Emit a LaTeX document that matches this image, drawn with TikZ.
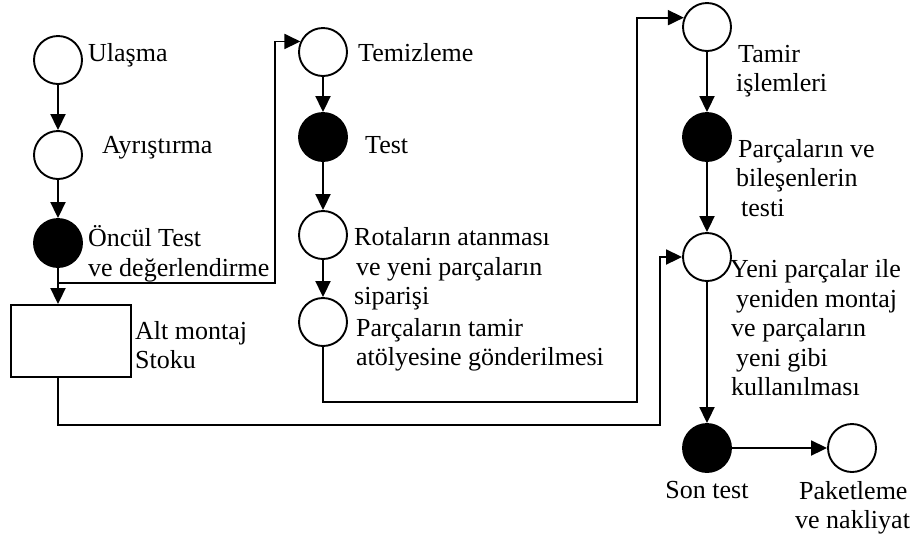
\documentclass[tikz,border=0pt]{standalone}
\usepackage{fontspec}
\setmainfont{Liberation Serif}
\usetikzlibrary{arrows.meta}
\begin{document}
\begin{tikzpicture}[x=1pt,y=-1pt,
  ln/.style={line width=1.9pt},
  arr/.style={ln,-{Triangle[length=16pt,width=15pt]}},
  st/.style={circle,draw,ln,minimum size=48pt,inner sep=0pt,fill=white},
  stf/.style={st,fill=black},
  lab/.style={anchor=west,inner sep=0pt,align=left,font=\fontsize{26}{29.5}\selectfont},
  labc/.style={lab,anchor=center,align=center}]
\useasboundingbox (0,0) rectangle (913,542);
% column 1
\node[st]  (ul) at (58,60) {};
\node[st]  (ay) at (58,155) {};
\node[stf] (on) at (58,243) {};
\node[rectangle,draw,ln,minimum width=120pt,minimum height=72pt,inner sep=0pt] (box) at (71,341) {};
% column 2
\node[st]  (te) at (323,52) {};
\node[stf] (ts) at (323,137) {};
\node[st]  (ro) at (323,235) {};
\node[st]  (pt) at (323,322) {};
% column 3
\node[st]  (tm) at (707,27) {};
\node[stf] (pv) at (707,137) {};
\node[st]  (yp) at (707,257) {};
\node[stf] (so) at (707,448) {};
\node[st]  (pk) at (852,448) {};
% labels
\node[lab] (lul) at (88,55) {Ulaşma};
\node[lab] (lay) at (102,148) {Ayrıştırma};
\node[lab] (lon) at (88,254) {Öncül Test\\ve değerlendirme};
\node[lab] (lbox) at (135,345) {Alt montaj\\Stoku};
\node[lab] (lte) at (358,53) {Temizleme};
\node[lab] (lts) at (365,145) {Test};
\node[lab] (lro) at (354,269) {Rotaların atanması\\\hspace*{2pt}ve yeni parçaların\\siparişi};
\node[lab] (lpt) at (356,345) {Parçaların tamir\\atölyesine gönderilmesi};
\node[lab] (ltm) at (736,71) {\hspace*{2pt}Tamir\\işlemleri};
\node[lab] (lpv) at (736,178) {\hspace*{2pt}Parçaların ve\\bileşenlerin\\\hspace*{5pt}testi};
\node[lab] (lyp) at (730,328) {Yeni parçalar ile\\\hspace*{6pt}yeniden montaj\\\hspace*{1pt}ve parçaların\\\hspace*{6pt}yeni gibi\\\hspace*{1pt}kullanılması};
\node[labc] (lso) at (707,490) {Son test};
\node[lab] (lpk) at (795,508) {\hspace*{4pt}Paketleme\\ve nakliyat};
% connectors column 1
\coordinate (j1) at (58,283);
\coordinate (b1) at (275,283);
\draw[arr] (ul) -- (ay);
\draw[arr] (ay) -- (on);
\draw[ln] (on.south) -- (j1);
\draw[arr] (j1) -- (j1 |- box.north);
\draw[arr] (j1) -- (b1) |- (te.155);
\coordinate (c3) at (660,425);
\draw[arr] (box.south -| j1) |- (c3) |- (yp.west);
% column 2
\draw[arr] (te) -- (ts);
\draw[arr] (ts) -- (ro);
\draw[arr] (ro) -- (pt);
\coordinate (c2) at (637,402);
\draw[arr] (pt.south) |- (c2) |- (tm.158);
% column 3
\draw[arr] (tm) -- (pv);
\draw[arr] (pv) -- (yp);
\draw[arr] (yp) -- (so);
\draw[arr] (so) -- (pk);
\end{tikzpicture}
\end{document}
